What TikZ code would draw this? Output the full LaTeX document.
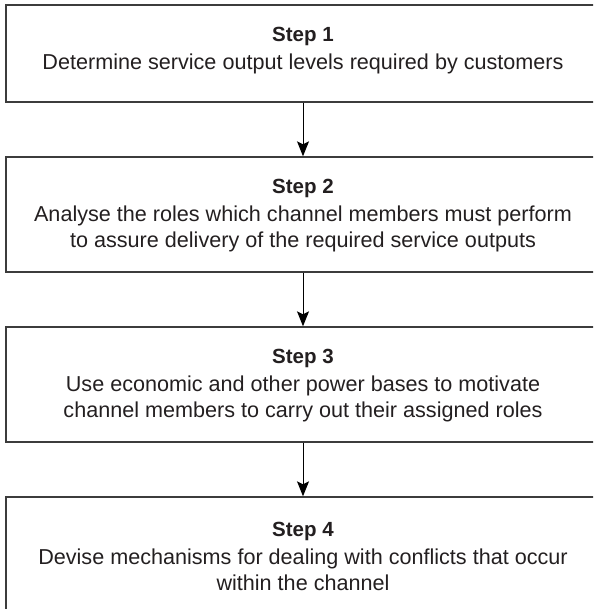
\documentclass[tikz,border=0pt]{standalone}
\usepackage{fontspec}
\setmainfont{Liberation Sans}
\usetikzlibrary{arrows.meta}
\definecolor{ink}{HTML}{231F20}
\definecolor{edgecol}{HTML}{3C3C3C}
\newcommand{\steptitle}[1]{{\fontsize{20.5}{26}\selectfont\bfseries #1}\\[2pt]}
\tikzset{
  stepbox/.style={draw=edgecol, line width=1.4pt, rectangle, minimum width=594pt, inner sep=0pt},
  steptext/.style={text=ink, align=center, font=\fontsize{21.6}{26}\selectfont, inner sep=0pt},
  flow/.style={draw=black, line width=1pt, -{Stealth[length=15pt,width=12pt,inset=3pt]}}
}
\begin{document}
\begin{tikzpicture}[x=1pt,y=-1pt]
\useasboundingbox (0,0) rectangle (593,609);
\clip (0,0) rectangle (593,609);
\node[stepbox, minimum height=97pt]  (b1) at (303,53.5) {};
\node[stepbox, minimum height=115pt] (b2) at (303,214.5) {};
\node[stepbox, minimum height=115pt] (b3) at (303,384.5) {};
\node[stepbox, minimum height=115pt] (b4) at (303,554.5) {};
\node[steptext] (t1) at (303,51) {\steptitle{Step 1}Determine service output levels required by customers};
\node[steptext] (t2) at (303,216) {\steptitle{Step 2}Analyse the roles which channel members must perform\\to assure delivery of the required service outputs};
\node[steptext] (t3) at (303,386) {\steptitle{Step 3}Use economic and other power bases to motivate\\channel members to carry out their assigned roles};
\node[steptext] (t4) at (303,556) {\steptitle{Step 4}Devise mechanisms for dealing with conflicts that occur\\within the channel};
\draw[flow] (b1.south) -- (b2.north);
\draw[flow] (b2.south) -- (b3.north);
\draw[flow] (b3.south) -- (b4.north);
\end{tikzpicture}
\end{document}
